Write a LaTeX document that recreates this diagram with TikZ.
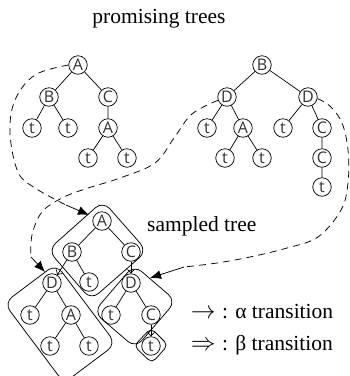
\documentclass[tikz,border=0pt]{standalone}
\usepackage{fontspec}
\setmainfont{Liberation Serif}
\newfontfamily\nodefont{Open Sans}
\usetikzlibrary{arrows.meta}
\begin{document}
\begin{tikzpicture}[x=1pt,y=-1pt,
  tn/.style={circle,draw=black,line width=0.7pt,minimum size=18.5pt,inner sep=0pt,
             font=\nodefont\fontsize{16}{16}\selectfont,text=black!80},
  edge/.style={line width=0.7pt},
  grp/.style={line width=0.75pt,rounded corners=10pt},
  alphaarrow/.style={line width=0.7pt,-{Straight Barb[length=3.5pt,width=7pt]}},
  route/.style={line width=0.75pt,dash pattern=on 7pt off 5pt},
  lead/.style={line width=0.75pt,-{Latex[length=11pt,width=9pt]}},
  lbl/.style={font=\fontsize{21.5}{24}\selectfont,inner sep=0pt}
]
\useasboundingbox (0,0) rectangle (350,376);

% ---------- titles ----------
\node[lbl,anchor=base] (ttl) at (159,23) {promising trees};
\node[lbl,anchor=base west] (stl) at (147,231) {sampled tree};

% ---------- promising tree 1 ----------
\node[tn] (pA)  at (78,65)  {A};
\node[tn] (pB)  at (49,97)  {B};
\node[tn] (pC)  at (108,97) {C};
\node[tn] (pt1) at (32,128) {t};
\node[tn] (pt2) at (68,128) {t};
\node[tn] (pA2) at (108,128) {A};
\node[tn] (pt3) at (88,158) {t};
\node[tn] (pt4) at (127,158) {t};
\draw[edge] (pA) -- (pB) (pA) -- (pC) (pB) -- (pt1) (pB) -- (pt2)
            (pC) -- (pA2) (pA2) -- (pt3) (pA2) -- (pt4);

% ---------- promising tree 2 ----------
\node[tn] (qB)  at (262,65)  {B};
\node[tn] (qDl) at (227,97)  {D};
\node[tn] (qDr) at (308,97)  {D};
\node[tn] (qt1) at (207,128) {t};
\node[tn] (qA)  at (243,128) {A};
\node[tn] (qt2) at (283,128) {t};
\node[tn] (qC1) at (322,128) {C};
\node[tn] (qt3) at (225,158) {t};
\node[tn] (qt4) at (262,158) {t};
\node[tn] (qC2) at (322,158) {C};
\node[tn] (qt5) at (322,187) {t};
\draw[edge] (qB) -- (qDl) (qB) -- (qDr) (qDl) -- (qt1) (qDl) -- (qA)
            (qA) -- (qt3) (qA) -- (qt4) (qDr) -- (qt2) (qDr) -- (qC1)
            (qC1) -- (qC2) (qC2) -- (qt5);

% ---------- sampled tree ----------
\node[tn] (sA)  at (102,221) {A};
\node[tn] (sB)  at (72,252)  {B};
\node[tn] (sC)  at (131,252) {C};
\node[tn] (st1) at (89,282)  {t};
\node[tn] (sD1) at (52,283)  {D};
\node[tn] (st2) at (30,315)  {t};
\node[tn] (sA2) at (71,315)  {A};
\node[tn] (st3) at (50,346)  {t};
\node[tn] (st4) at (89,346)  {t};
\node[tn] (sD2) at (131,283) {D};
\node[tn] (st5) at (111,315) {t};
\node[tn] (sC2) at (151,315) {C};
\node[tn] (st6) at (151,346) {t};
\draw[edge] (sA) -- (sB) (sA) -- (sC) (sB) -- (st1)
            (sD1) -- (st2) (sD1) -- (sA2) (sA2) -- (st3) (sA2) -- (st4)
            (sD2) -- (st5) (sD2) -- (sC2);
\draw[alphaarrow] (sB) -- (sD1);
\draw[alphaarrow] (sC) -- (sD2);
\draw[alphaarrow] (sC2) -- (st6);

% ---------- elementary tree outlines ----------
\draw[grp] (103,201) -- (147,251) -- (91,300) -- (48,250) -- cycle;
\draw[grp] (56,264) -- (116,344) -- (64,383) -- (4,303) -- cycle;
\draw[grp] (134,265) -- (176,301) -- (135.5,348) -- (93.7,312) -- cycle;
\draw[grp,rounded corners=5pt] (151,328) -- (168,345) -- (152,363) -- (134,346) -- cycle;

% ---------- routes from promising trees to the sampled tree ----------
\coordinate (r1) at (66,205);   \coordinate (h1) at (89,215);
\coordinate (r2) at (31,257);   \coordinate (h2) at (45,272);
\coordinate (r3) at (184,267);  \coordinate (h3) at (150,278);

\draw[route] plot[smooth,tension=0.6] coordinates
  {(pA.west) (35,75) (15,100) (10,133) (18,172) (35,188) (r1)};
\draw[lead] (r1) -- (h1);

\draw[route] plot[smooth,tension=0.6] coordinates
  {(qDl.200) (192,114) (174,138) (155,163) (120,178) (85,189) (62,198)
   (42,212) (32,235) (r2)};
\draw[lead] (r2) -- (h2);

\draw[route] plot[smooth,tension=0.6] coordinates
  {(qDr.-10) (330,106) (342,123) (348,150) (348,183) (341,210) (318,237)
   (287,248) (250,257) (217,263) (r3)};
\draw[lead] (r3) -- (h3);

% ---------- legend ----------
\node[font=\fontsize{24}{24}\selectfont,inner sep=0pt,anchor=base east] (la) at (216,318) {$\rightarrow$};
\node[lbl,anchor=base west] (lat) at (222,318) {: α transition};
\node[font=\fontsize{24}{24}\selectfont,inner sep=0pt,anchor=base east] (lb) at (216,350) {$\Rightarrow$};
\node[lbl,anchor=base west] (lbt) at (222,350) {: β transition};
\end{tikzpicture}
\end{document}
